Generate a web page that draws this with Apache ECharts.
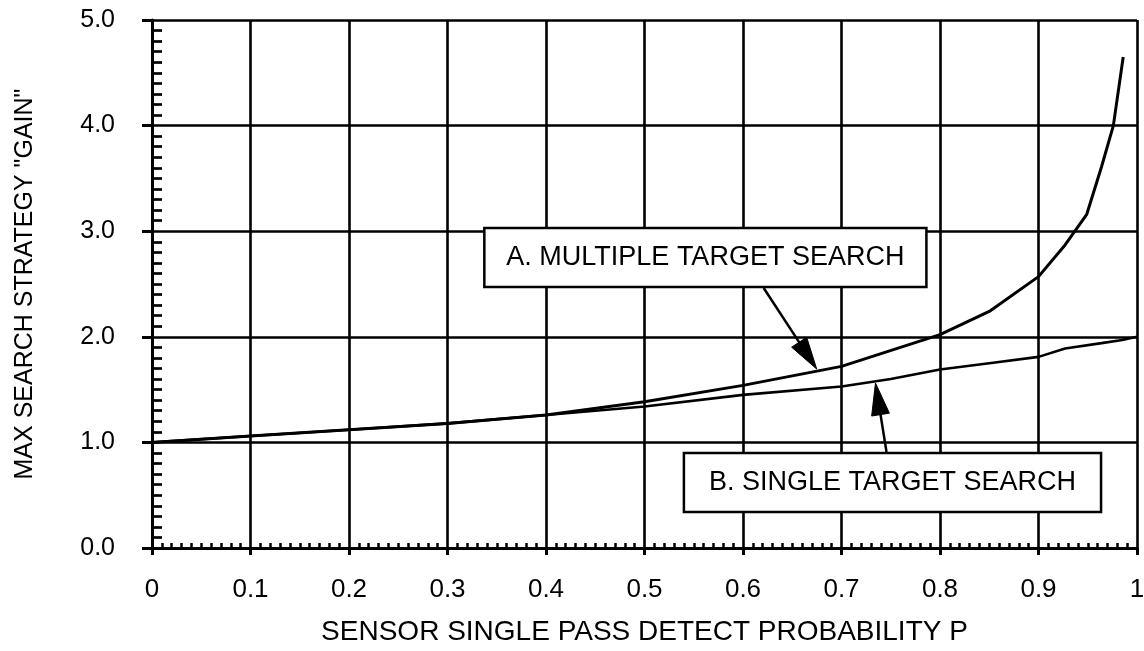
<!DOCTYPE html>
<html>
<head>
<meta charset="utf-8">
<script src="https://cdn.jsdelivr.net/npm/echarts@6/dist/echarts.min.js"></script>
<style>
html,body{margin:0;padding:0;background:#fff;}
#chart{width:1144px;height:651px;}
</style>
</head>
<body>
<div id="chart"></div>
<script>
// ---- data ----
var pA = [0, 0.1, 0.2, 0.3, 0.4, 0.5, 0.6, 0.7, 0.8, 0.85, 0.9, 0.927, 0.949, 0.964, 0.976, 0.986];
var gainA = [1.0, 1.06, 1.12, 1.18, 1.26, 1.385, 1.54, 1.72, 2.02, 2.24, 2.57, 2.87, 3.16, 3.61, 4.0, 4.65];
var pB = [0, 0.1, 0.2, 0.3, 0.4, 0.5, 0.6, 0.7, 0.75, 0.8, 0.85, 0.9, 0.927, 0.964, 0.985, 1.0];
var gainB = [1.0, 1.06, 1.12, 1.18, 1.26, 1.34, 1.45, 1.53, 1.60, 1.69, 1.75, 1.81, 1.89, 1.94, 1.97, 2.0];
var xTickLabels = ['0', '0.1', '0.2', '0.3', '0.4', '0.5', '0.6', '0.7', '0.8', '0.9', '1'];
var yTickLabels = ['0.0', '1.0', '2.0', '3.0', '4.0', '5.0'];
var seriesNames = ['A. MULTIPLE TARGET SEARCH', 'B. SINGLE TARGET SEARCH'];
var xTitle = 'SENSOR SINGLE PASS DETECT PROBABILITY P';
var yTitle = 'MAX SEARCH STRATEGY "GAIN"';

function zip(xs, ys) { return xs.map(function (x, i) { return [x, ys[i]]; }); }

var FONT = '"Liberation Sans", Arial, Helvetica, sans-serif';
var chart = echarts.init(document.getElementById('chart'), null, {renderer: 'canvas'});

var option = {
  backgroundColor: '#ffffff',
  animation: false,
  grid: {left: 152, right: 7, top: 20, bottom: 103, containLabel: false, outerBoundsMode: 'none'},
  xAxis: [{
    type: 'value', min: 0, max: 1, interval: 0.1,
    name: xTitle, nameLocation: 'middle', nameGap: 70,
    nameTextStyle: {color: '#000', fontSize: 28, fontFamily: FONT},
    axisLine: {show: true, onZero: false, lineStyle: {color: '#000', width: 3}},
    axisTick: {show: true, inside: false, length: 7, lineStyle: {color: '#000', width: 3}},
    axisLabel: {color: '#000', fontSize: 26, fontFamily: FONT, margin: 29,
      formatter: function (v) { return xTickLabels[Math.round(v * 10)]; }},
    splitLine: {show: true, lineStyle: {color: '#000', width: 2.6}},
    minorTick: {show: false}
  }, {
    type: 'value', min: 0, max: 1, interval: 0.1, position: 'bottom', gridIndex: 0,
    axisLine: {show: false, onZero: false},
    axisTick: {show: true, inside: true, length: 0},
    axisLabel: {show: false},
    splitLine: {show: false},
    minorTick: {show: true, splitNumber: 10, length: 5, lineStyle: {color: '#000', width: 2.5}}
  }],
  yAxis: [{
    type: 'value', min: 0, max: 5, interval: 1,
    name: yTitle, nameLocation: 'middle', nameGap: 114, nameRotate: 90,
    nameTextStyle: {color: '#000', fontSize: 25, fontFamily: FONT},
    axisLine: {show: true, onZero: false, lineStyle: {color: '#000', width: 3}},
    axisTick: {show: true, inside: false, length: 10, lineStyle: {color: '#000', width: 3}},
    axisLabel: {color: '#000', fontSize: 25, fontFamily: FONT, margin: 37,
      formatter: function (v) { return yTickLabels[Math.round(v)]; }},
    splitLine: {show: true, lineStyle: {color: '#000', width: 2.6}}
  }, {
    type: 'value', min: 0, max: 5, interval: 1, position: 'left', gridIndex: 0,
    axisLine: {show: false, onZero: false},
    axisTick: {show: true, inside: true, length: 0},
    axisLabel: {show: false},
    splitLine: {show: false},
    minorTick: {show: true, splitNumber: 10, length: 10, lineStyle: {color: '#000', width: 2.7}}
  }],
  series: [{
    name: seriesNames[0], type: 'line', xAxisIndex: 0, yAxisIndex: 0,
    data: zip(pA, gainA), showSymbol: false, smooth: false, z: 5,
    lineStyle: {color: '#000', width: 3}
  }, {
    name: seriesNames[1], type: 'line', xAxisIndex: 0, yAxisIndex: 0,
    data: zip(pB, gainB), showSymbol: false, smooth: false, z: 5,
    lineStyle: {color: '#000', width: 2.6}
  }]
};
chart.setOption(option);

// ---- annotations (placed in data coordinates) ----
var boxes = [
  {text: seriesNames[0], x0: 0.3374, x1: 0.7862, y0: 3.03, y1: 2.472},
  {text: seriesNames[1], x0: 0.540, x1: 0.9635, y0: 0.90, y1: 0.341}
];
var arrows = [
  {from: [0.621, 2.462], to: [0.6748, 1.695]},
  {from: [0.7457, 0.909], to: [0.7345, 1.5625]}
];
function px(pt) { return chart.convertToPixel({gridIndex: 0}, pt); }
var elements = [];
boxes.forEach(function (b) {
  var a = px([b.x0, b.y0]), c = px([b.x1, b.y1]);
  elements.push({
    type: 'rect', z: 100,
    shape: {x: a[0], y: a[1], width: c[0] - a[0], height: c[1] - a[1]},
    style: {fill: '#fff', stroke: '#000', lineWidth: 2.5}
  });
  elements.push({
    type: 'text', z: 101,
    x: (a[0] + c[0]) / 2, y: (a[1] + c[1]) / 2,
    style: {text: b.text, fill: '#000', font: '27px ' + FONT, textAlign: 'center', textVerticalAlign: 'middle'}
  });
});
arrows.forEach(function (ar) {
  var f = px(ar.from), t = px(ar.to);
  var dx = t[0] - f[0], dy = t[1] - f[1];
  var len = Math.sqrt(dx * dx + dy * dy);
  var ux = dx / len, uy = dy / len;
  var hl = 32, hw = 9;
  var bx = t[0] - ux * hl, by = t[1] - uy * hl;
  elements.push({
    type: 'line', z: 100,
    shape: {x1: f[0], y1: f[1], x2: bx + ux * 2, y2: by + uy * 2},
    style: {stroke: '#000', lineWidth: 2.5}
  });
  elements.push({
    type: 'polygon', z: 100,
    shape: {points: [[t[0], t[1]], [bx - uy * hw, by + ux * hw], [bx + uy * hw, by - ux * hw]]},
    style: {fill: '#000', stroke: '#000', lineWidth: 1}
  });
});
chart.setOption({graphic: {elements: elements}});
</script>
</body>
</html>
